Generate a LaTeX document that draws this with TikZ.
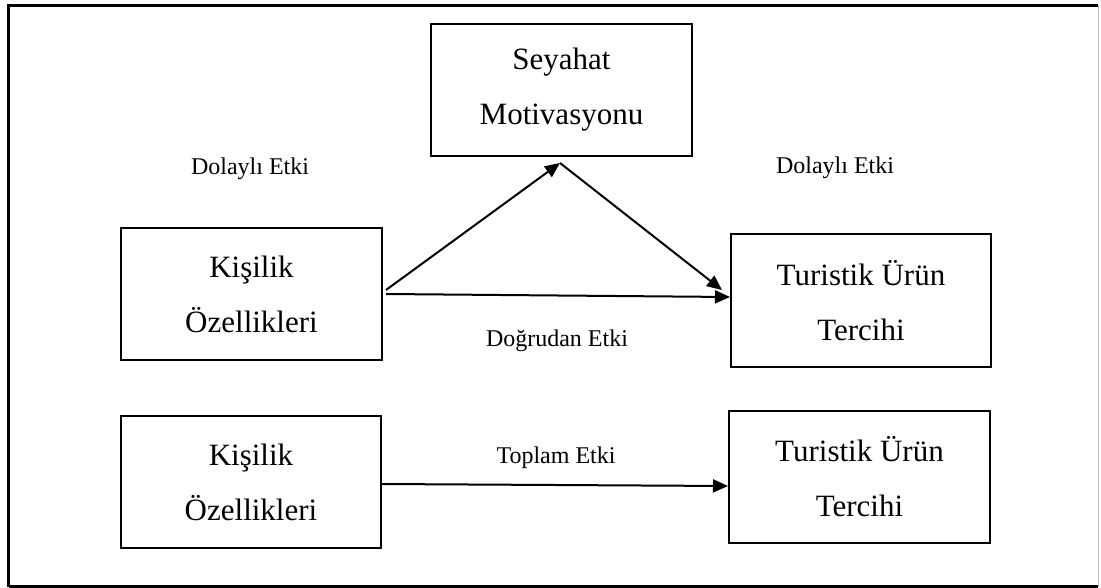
\documentclass[tikz,border=0pt]{standalone}
\usepackage{fontspec}
\setmainfont{Liberation Serif}
\usetikzlibrary{arrows.meta,calc}
\tikzset{
  box/.style={draw=black,line width=2pt,minimum width=261pt,minimum height=132pt,inner sep=0pt,align=center,font=\fontsize{31}{55}\selectfont},
  lbl/.style={font=\fontsize{24}{28}\selectfont,anchor=base,inner sep=0pt},
  arr/.style={line width=2pt,-{Triangle[length=15pt,width=13pt]}},
  frame/.style={line width=3pt,black}
}
\begin{document}
\begin{tikzpicture}[x=1pt,y=-1pt]
\useasboundingbox (0,0) rectangle (1101,588);
\fill[white] (0,0) rectangle (1101,588);
% outer frame
\coordinate (f1) at (8.5,586.5);
\coordinate (f2) at (8.5,5.5);
\coordinate (f3) at (1098,5.5);
\coordinate (f4) at (1098,586.5);
\draw[frame] (f1) -- (f2) -- (f3);
\draw[frame] (f1) -- (f4);
\draw[line width=1pt,black!25] (f3) -- (f4);
% boxes
\node[box] (s)  at (561.5,90)  {Seyahat\\Motivasyonu};
\node[box] (k1) at (251.5,294) {Kişilik\\Özellikleri};
\node[box,minimum height=133pt,minimum width=260pt] (t1) at (861,300.5) {Turistik Ürün\\Tercihi};
\node[box,minimum width=260pt] (k2) at (251,482) {Kişilik\\Özellikleri};
\node[box] (t2) at (859.5,477) {Turistik Ürün\\Tercihi};
% arrows
\coordinate (m) at ($(s.south)+(-1.5,6)$);
\draw[arr] ($(k1.east)+(3,-4)$) -- (m);
\draw[arr] (m) -- ($(t1.west)+(-8,-10.5)$);
\draw[arr] ($(k1.east)+(3,0)$) -- ($(t1.west)+(0,-3.5)$);
\draw[arr] ($(k2.east)+(0,2)$) -- ($(t2.west)+(0,9)$);
% labels
\node[lbl] (l1) at (250,175) {Dolaylı Etki};
\node[lbl] (l2) at (835,174) {Dolaylı Etki};
\node[lbl] (l3) at (557,346) {Doğrudan Etki};
\node[lbl] (l4) at (556,463) {Toplam Etki};
\end{tikzpicture}
\end{document}
